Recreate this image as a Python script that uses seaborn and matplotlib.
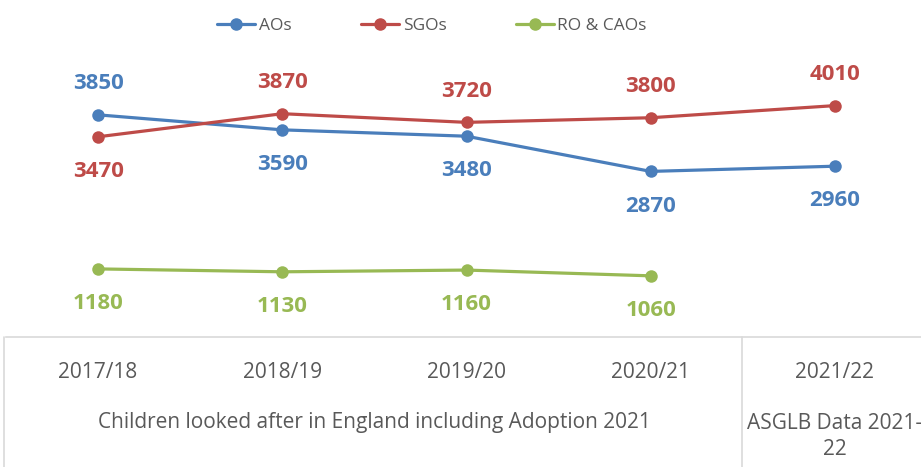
import numpy as np
import pandas as pd
import matplotlib
matplotlib.use("Agg")
import matplotlib.pyplot as plt
import seaborn as sns
from matplotlib.lines import Line2D

years = ["2017/18", "2018/19", "2019/20", "2020/21", "2021/22"]
aos = [3850, 3590, 3480, 2870, 2960]
sgos = [3470, 3870, 3720, 3800, 4010]
ro_caos = [1180, 1130, 1160, 1060, np.nan]
series_names = ["AOs", "SGOs", "RO & CAOs"]
colors = ["#4A7EBB", "#BE4B48", "#98B954"]
# label above (+1) or below (-1) each point
label_side = {
    "AOs": [1, -1, -1, -1, -1],
    "SGOs": [-1, 1, 1, 1, 1],
    "RO & CAOs": [-1, -1, -1, -1, -1],
}
group_labels = ["Children looked after in England including Adoption 2021", "ASGLB Data 2021-\n22"]

sns.set_theme(style="white")
plt.rcParams['font.family'] = ['Open Sans', 'DejaVu Sans']

df = pd.DataFrame({
    'x': list(range(len(years))) * 3,
    'value': aos + sgos + ro_caos,
    'series': [n for n in series_names for _ in years],
})

fig = plt.figure(figsize=(9.21, 4.67), dpi=100)
W, H = 921, 467
ax = fig.add_axes([6 / W, (H - 337) / H, 921 / W, 288.5 / H])

sns.lineplot(data=df.dropna(), x='x', y='value', hue='series', hue_order=series_names,
             palette=colors, marker='o', markersize=9, markeredgewidth=0,
             linewidth=2.3, ax=ax, legend=False)

ax.set_xlim(-0.5, 4.5)
ax.set_ylim(0, 5000)
ax.set_xticks([])
ax.set_yticks([])
ax.set_xlabel('')
ax.set_ylabel('')
for s in ['top', 'right', 'left']:
    ax.spines[s].set_visible(False)
ax.spines['bottom'].set_color('#D9D9D9')
ax.spines['bottom'].set_linewidth(1.2)

# data labels
for name, vals, col in zip(series_names, [aos, sgos, ro_caos], colors):
    for i, v in enumerate(vals):
        if np.isnan(v):
            continue
        side = label_side[name][i]
        off = 22.5 if side > 0 else -25
        ax.annotate(f"{int(v)}", (i, v), xytext=(0, off), textcoords='offset points',
                    ha='center', va='center', color=col, fontsize=16, fontweight='bold')

# category table below the axis
fig.add_artist(Line2D([4 / W, 4 / W], [0, (H - 337) / H], color='#D9D9D9', lw=1.2))
fig.add_artist(Line2D([742 / W, 742 / W], [0, (H - 337) / H], color='#D9D9D9', lw=1.2))
tick_color = '#595959'
for i, yr in enumerate(years):
    ax.annotate(yr, (i, 0), xytext=(0, -25.5), textcoords='offset points',
                ha='center', va='center', fontsize=15, color=tick_color, annotation_clip=False)
ax.annotate(group_labels[0], (1.5, 0), xytext=(0, -61.5), textcoords='offset points',
            ha='center', va='center', fontsize=15, color=tick_color, annotation_clip=False)
ax.annotate(group_labels[1], (4, 0), xytext=(0, -71.5), textcoords='offset points',
            ha='center', va='center', fontsize=15, color=tick_color, annotation_clip=False,
            linespacing=1.3)

handles = [Line2D([0], [0], color=c, lw=2.3, marker='o', markersize=8) for c in colors]
leg = fig.legend(handles, series_names, loc='center', bbox_to_anchor=(432 / W, 1 - 26 / H),
                 ncol=3, frameon=False, fontsize=12.5, handlelength=2.2, columnspacing=4.0,
                 handletextpad=0.2)
for t in leg.get_texts():
    t.set_color(tick_color)

fig.savefig('out.png', dpi=100)
